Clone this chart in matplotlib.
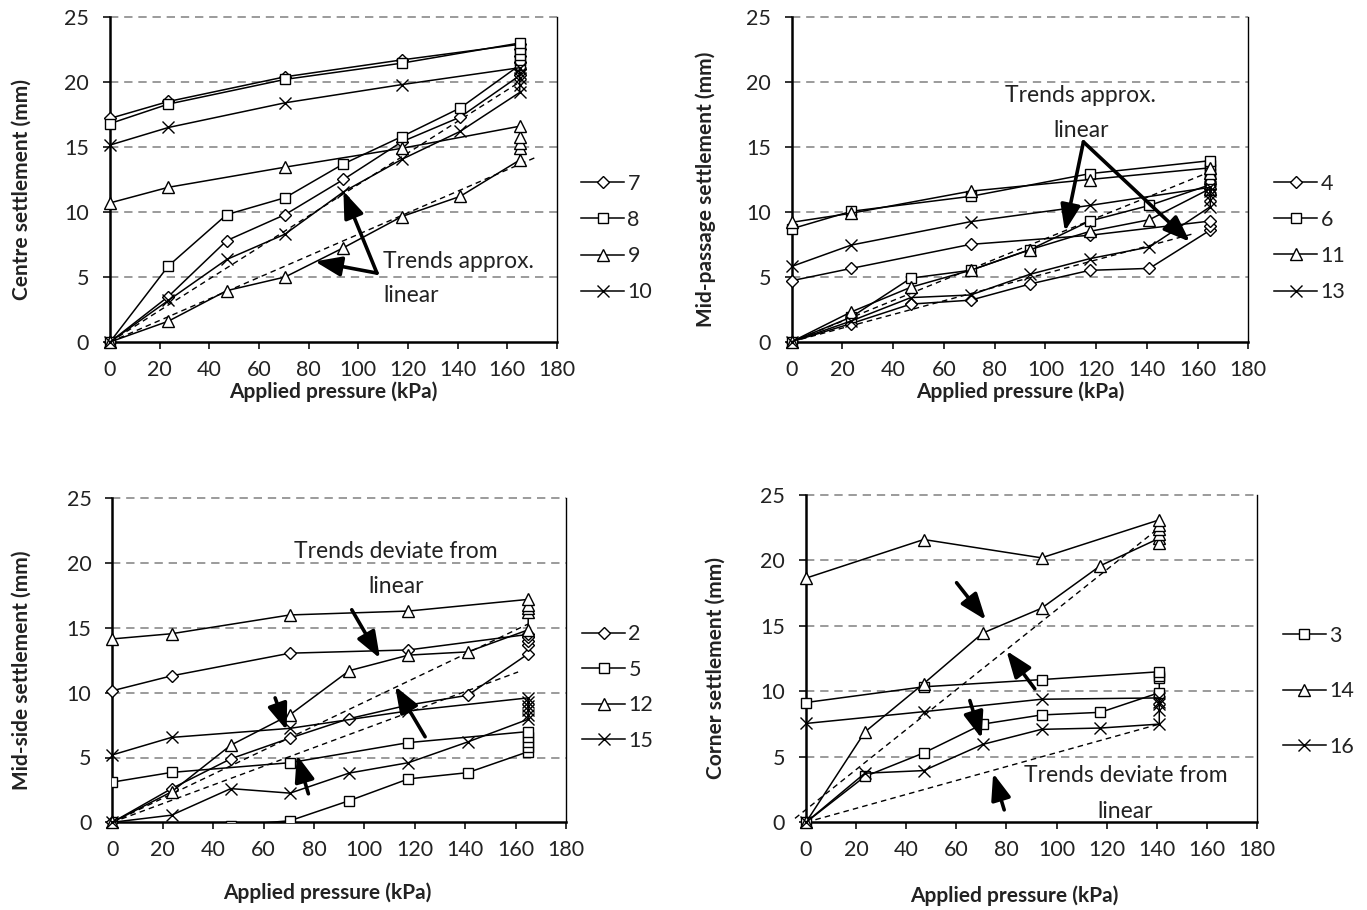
import matplotlib
matplotlib.use('Agg')
import matplotlib.pyplot as plt

plt.rcParams['font.family'] = ['Lato', 'DejaVu Sans']

# pressure steps (kPa)
p_load = [0, 23.5, 47, 70.5, 94, 117.5, 141, 165]
p_unload = [117.5, 70.5, 23.5, 0]
p_load_c = [0, 23.5, 47, 70.5, 94, 117.5, 141]
p_unload_c = [94, 47, 0]

# Centre settlement (mm): loading, hold at peak, unloading
c7_load = [0, 3.5, 7.8, 9.8, 12.5, 15.4, 17.3, 20.5]
c7_hold = [21.0, 21.5, 22.0, 22.5, 22.9]
c7_unload = [21.7, 20.4, 18.5, 17.2]
c8_load = [0, 5.85, 9.8, 11.1, 13.7, 15.8, 18.0, 21.3]
c8_hold = [21.7, 22.1, 22.5, 23.0]
c8_unload = [21.45, 20.2, 18.3, 16.8]
c9_load = [0, 1.6, 3.95, 5.0, 7.25, 9.65, 11.2, 14.0]
c9_hold = [14.9, 15.3, 15.8, 16.6]
c9_unload = [14.9, 13.45, 11.9, 10.7]
c10_load = [0, 3.2, 6.35, 8.3, 11.55, 14.05, 16.2, 19.2]
c10_hold = [19.8, 20.3, 20.7, 21.1]
c10_unload = [19.8, 18.4, 16.5, 15.15]

# Mid-passage settlement (mm)
m4_load = [0, 1.4, 2.9, 3.2, 4.45, 5.5, 5.65, 8.6]
m4_hold = [8.9, 9.3]
m4_unload = [8.2, 7.5, 5.65, 4.7]
m6_load = [0, 1.9, 4.9, 5.5, 7.1, 9.3, 10.5, 12.1]
m6_hold = [12.5, 12.9, 13.3, 13.6, 13.95]
m6_unload = [12.95, 11.2, 10.05, 8.7]
m11_load = [0, 2.3, 4.2, 5.5, 7.1, 8.5, 9.4, 11.8]
m11_hold = [12.2, 12.6, 13.0, 13.4]
m11_unload = [12.5, 11.6, 9.9, 9.2]
m13_load = [0, 1.6, 3.4, 3.6, 5.2, 6.4, 7.3, 10.4]
m13_hold = [10.9, 11.3, 11.6, 11.9]
m13_unload = [10.5, 9.25, 7.45, 5.8]

# Mid-side settlement (mm)
s2_load = [0, 2.6, 4.9, 6.5, 8.0, 9.05, 9.8, 13.0]
s2_hold = [13.7, 14.0, 14.3, 14.5]
s2_unload = [13.3, 13.05, 11.3, 10.15]
s5_load = [0, -1.0, -0.25, 0.12, 1.67, 3.35, 3.83, 5.45]
s5_hold = [5.8, 6.2, 6.6, 7.0]
s5_unload = [6.15, 4.6, 3.85, 3.1]
s12_load = [0, 2.35, 5.95, 8.3, 11.7, 12.9, 13.15, 14.85]
s12_hold = [16.2, 16.5, 16.8, 17.2]
s12_unload = [16.3, 16.0, 14.55, 14.15]
s15_load = [0, 0.55, 2.6, 2.25, 3.8, 4.6, 6.2, 7.95]
s15_hold = [8.3, 8.7, 9.0, 9.3, 9.6]
s15_unload = [8.6, 7.25, 6.55, 5.2]

# Corner settlement (mm)
k3_load = [0, 3.5, 5.3, 7.5, 8.2, 8.4, 9.9]
k3_hold = [11.0, 11.2, 11.5]
k3_unload = [10.9, 10.35, 9.15]
k14_load = [0, 6.9, 10.6, 14.45, 16.35, 19.6, 21.7]
k14_hold = [21.3, 22.0, 22.4, 22.7, 23.1]
k14_unload = [20.2, 21.6, 18.65]
k16_load = [0, 3.75, 3.95, 5.95, 7.1, 7.2, 7.5]
k16_hold = [8.6, 9.0, 9.2, 9.5]
k16_unload = [9.4, 8.45, 7.55]

# linear trend lines (x0, y0, x1, y1)
trend_centre = [(0, 0, 165, 20.0), (0, 0, 172, 14.25)]
trend_mid = [(0, 0, 165, 13.1), (0, 0, 158, 8.3)]
trend_side = [(0, 0, 165, 15.3), (0, 0, 161, 11.6)]
trend_corner = [(-4.4, 0.3, 141, 22.5), (0, 0, 141, 7.5)]

W, H = 1367, 910
fig = plt.figure(figsize=(W / 100, H / 100), dpi=100)


def make_ax(l, t, r, b):
    return fig.add_axes([l / W, 1 - b / H, (r - l) / W, (b - t) / H])


def style(ax, ylabel, ylab_x, xlab_x, xlab_y):
    ax.set_xlim(0, 180)
    ax.set_ylim(0, 25)
    ax.set_xticks(range(0, 181, 20))
    ax.set_yticks(range(0, 26, 5))
    ax.spines['top'].set_visible(False)
    ax.spines['left'].set_linewidth(1.8)
    ax.spines['bottom'].set_linewidth(1.8)
    ax.spines['right'].set_linewidth(1.0)
    ax.tick_params(direction='out', length=5, width=1.3, labelsize=15.5,
                   colors='#222')
    ax.tick_params(axis='y', pad=10)
    ax.tick_params(axis='x', pad=8)
    for yv in range(5, 26, 5):
        ax.axhline(yv, color='#8a8a8a', ls=(0, (5, 3.5)), lw=1.2, zorder=0,
                   clip_on=False)
    ax.set_ylabel(ylabel, fontsize=15, fontweight='bold', va='center',
                  color='#222')
    ax.yaxis.set_label_coords(ylab_x, 0.47)
    ax.set_xlabel('Applied pressure (kPa)', fontsize=15, fontweight='bold',
                  va='center', color='#222')
    ax.xaxis.set_label_coords(xlab_x, xlab_y)


def series(ax, pl, pu, load, hold, unload, marker, ms, clip=False):
    pk = pl[-1]
    x = pl + [pk] * len(hold) + pu
    y = load + hold + unload
    ln, = ax.plot(x, y, color='black', lw=1.1, marker=marker, ms=ms,
                  mfc='white', mec='black', mew=1.0, clip_on=clip, zorder=3)
    return ln


def trends(ax, lines):
    for x0, y0, x1, y1 in lines:
        ax.plot([x0, x1], [y0, y1], color='black', lw=1.0, ls=(0, (4, 3)),
                zorder=2, clip_on=False)


def arrow(ax, tail, tip):
    ax.annotate('', xy=tip, xytext=tail,
                arrowprops=dict(arrowstyle='-|>,head_length=0.8,head_width=0.3',
                                lw=2.6, color='black', shrinkA=0, shrinkB=0,
                                mutation_scale=20), zorder=5)


def legend(ax, handles, labels, bx, by, spacing):
    ax.legend(handles, labels, loc='center left', bbox_to_anchor=(bx, by),
              frameon=False, handlelength=2.0, handletextpad=0.15,
              labelspacing=spacing, borderpad=0, fontsize=15.5, numpoints=1,
              labelcolor='#222')


MK = {'D': ('D', 6.0), 's': ('s', 7.5), '^': ('^', 8.0), 'x': ('x', 8.0)}
TXT = dict(fontsize=16.5, color='#222', va='center')

# ---- Centre
ax = make_ax(110, 17, 557, 342)
style(ax, 'Centre settlement (mm)', -0.197, 0.5, -0.154)
h = [series(ax, p_load, p_unload, c7_load, c7_hold, c7_unload, *MK['D']),
     series(ax, p_load, p_unload, c8_load, c8_hold, c8_unload, *MK['s']),
     series(ax, p_load, p_unload, c9_load, c9_hold, c9_unload, *MK['^']),
     series(ax, p_load, p_unload, c10_load, c10_hold, c10_unload, *MK['x'])]
trends(ax, trend_centre)
legend(ax, h, ['7', '8', '9', '10'], 1.03, 0.32, 0.75)
ax.text(110, 6.2, 'Trends approx.', ha='left', **TXT)
ax.text(110, 3.6, 'linear', ha='left', **TXT)
arrow(ax, (107.5, 5.3), (94, 11.6))
arrow(ax, (107.5, 5.3), (82.5, 6.2))

# ---- Mid-passage
ax = make_ax(791.7, 17.3, 1248.3, 341.7)
style(ax, 'Mid-passage settlement (mm)', -0.188, 0.5, -0.155)
h = [series(ax, p_load, p_unload, m4_load, m4_hold, m4_unload, *MK['D']),
     series(ax, p_load, p_unload, m6_load, m6_hold, m6_unload, *MK['s']),
     series(ax, p_load, p_unload, m11_load, m11_hold, m11_unload, *MK['^']),
     series(ax, p_load, p_unload, m13_load, m13_hold, m13_unload, *MK['x'])]
trends(ax, trend_mid)
legend(ax, h, ['4', '6', '11', '13'], 1.033, 0.32, 0.75)
ax.text(114, 19.0, 'Trends approx.', ha='center', **TXT)
ax.text(114, 16.3, 'linear', ha='center', **TXT)
arrow(ax, (115, 15.4), (107.7, 8.5))
arrow(ax, (115, 15.4), (157, 7.7))

# ---- Mid-side
ax = make_ax(112.3, 498.3, 566, 822.3)
style(ax, 'Mid-side settlement (mm)', -0.199, 0.474, -0.218)
h = [series(ax, p_load, p_unload, s2_load, s2_hold, s2_unload, *MK['D']),
     series(ax, p_load, p_unload, s5_load, s5_hold, s5_unload, *MK['s'], clip=True),
     series(ax, p_load, p_unload, s12_load, s12_hold, s12_unload, *MK['^']),
     series(ax, p_load, p_unload, s15_load, s15_hold, s15_unload, *MK['x'])]
trends(ax, trend_side)
legend(ax, h, ['2', '5', '12', '15'], 1.012, 0.416, 0.72)
ax.text(112.6, 20.9, 'Trends deviate from', ha='center', **TXT)
ax.text(112.6, 18.2, 'linear', ha='center', **TXT)
arrow(ax, (95, 16.4), (106.2, 12.65))
arrow(ax, (64.6, 9.6), (69.2, 7.1))
arrow(ax, (124.1, 6.6), (112.2, 10.5))
arrow(ax, (77.8, 2.2), (73.2, 5.2))

# ---- Corner
ax = make_ax(806, 495, 1257, 822.3)
style(ax, 'Corner settlement (mm)', -0.2, 0.461, -0.225)
h = [series(ax, p_load_c, p_unload_c, k3_load, k3_hold, k3_unload, *MK['s']),
     series(ax, p_load_c, p_unload_c, k14_load, k14_hold, k14_unload, *MK['^']),
     series(ax, p_load_c, p_unload_c, k16_load, k16_hold, k16_unload, *MK['x'])]
trends(ax, trend_corner)
legend(ax, h, ['3', '14', '16'], 1.033, 0.40, 1.65)
ax.text(127.5, 3.6, 'Trends deviate from', ha='center', **TXT)
ax.text(127.5, 0.8, 'linear', ha='center', **TXT)
arrow(ax, (60.1, 18.3), (71.8, 15.45))
arrow(ax, (91.3, 10.2), (80, 13.1))
arrow(ax, (65.4, 9.3), (70.1, 6.4))
arrow(ax, (79.1, 0.95), (74.7, 3.75))

fig.savefig('out.png', dpi=100)
